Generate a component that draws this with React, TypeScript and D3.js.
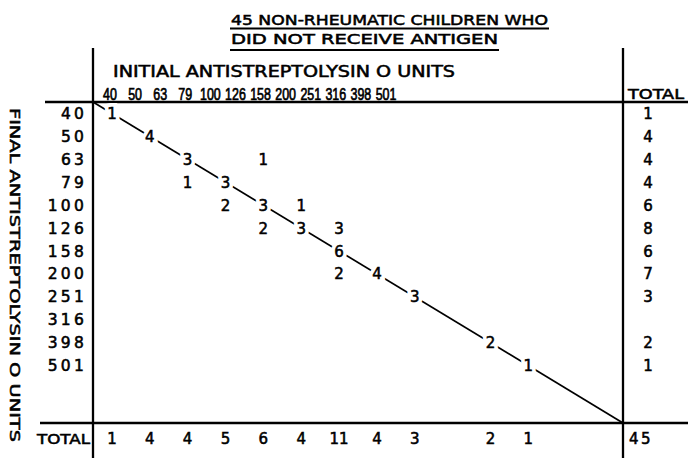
import * as React from 'react';
import * as d3 from 'd3';

// titre steps, same ladder for initial (columns) and final (rows)
const initialUnits = ['40', '50', '63', '79', '100', '126', '158', '200', '251', '316', '398', '501'];
const finalUnits = ['40', '50', '63', '79', '100', '126', '158', '200', '251', '316', '398', '501'];

// children per cell: final titre x initial titre
const cells = [
  { final: '40', initial: '40', n: '1' },
  { final: '50', initial: '50', n: '4' },
  { final: '63', initial: '63', n: '3' },
  { final: '63', initial: '100', n: '1' },
  { final: '79', initial: '63', n: '1' },
  { final: '79', initial: '79', n: '3' },
  { final: '100', initial: '79', n: '2' },
  { final: '100', initial: '100', n: '3' },
  { final: '100', initial: '126', n: '1' },
  { final: '126', initial: '100', n: '2' },
  { final: '126', initial: '126', n: '3' },
  { final: '126', initial: '158', n: '3' },
  { final: '158', initial: '158', n: '6' },
  { final: '200', initial: '158', n: '2' },
  { final: '200', initial: '200', n: '4' },
  { final: '251', initial: '251', n: '3' },
  { final: '398', initial: '398', n: '2' },
  { final: '501', initial: '501', n: '1' },
];

const rowTotals = ['1', '4', '4', '4', '6', '8', '6', '7', '3', '', '2', '1'];
const colTotals = ['1', '4', '4', '5', '6', '4', '11', '4', '3', '', '2', '1'];
const grandTotal = '45';

const titleLines = ['45 NON-RHEUMATIC CHILDREN WHO', 'DID NOT RECEIVE ANTIGEN'];
const xTitle = 'INITIAL ANTISTREPTOLYSIN O UNITS';
const yTitle = 'FINAL ANTISTREPTOLYSIN O UNITS';

const width = 688;
const height = 458;
const font = '"DejaVu Sans", sans-serif';
const narrowFont = '"Liberation Sans", Arial, sans-serif';
const ink = 0.55; // extra stroke to get the heavy lettering look

const drawTable = (node: SVGSVGElement) => {
  const svg = d3.select(node);
  svg.selectAll('*').remove();

  // 12 titre steps plus 2 empty steps before the corner
  const steps = d3.range(14);
  const x = d3.scaleBand<number>().domain(steps).range([93, 623]);
  const y = d3.scaleBand<number>().domain(steps).range([102, 423]);
  const cx = (u: string) => (x(initialUnits.indexOf(u)) as number) + x.bandwidth() / 2;
  const cy = (u: string) => (y(finalUnits.indexOf(u)) as number) + y.bandwidth() / 2;

  // the lettered heading row is squeezed, it does not follow the columns
  const xHead = d3.scalePoint<string>().domain(initialUnits).range([110, 386]);

  const [x0, x1] = x.range();
  const [y0, y1] = y.range();

  // frame
  const frame = svg.append('g').attr('stroke', '#000').attr('stroke-width', 2.3);
  frame.append('line').attr('x1', 45).attr('x2', width).attr('y1', y0).attr('y2', y0);
  frame.append('line').attr('x1', 40).attr('x2', width).attr('y1', y1).attr('y2', y1);
  frame.append('line').attr('x1', x0).attr('x2', x0).attr('y1', 48).attr('y2', height);
  frame.append('line').attr('x1', x1).attr('x2', x1).attr('y1', 48).attr('y2', height);

  // diagonal, corner to corner
  svg.append('line')
    .attr('x1', x0).attr('y1', y0)
    .attr('x2', x1).attr('y2', y1)
    .attr('stroke', '#000')
    .attr('stroke-width', 1.7);

  // title with underlines
  const title = svg.append('g')
    .attr('font-family', font).attr('font-size', 14.5)
    .attr('stroke', '#000').attr('stroke-width', ink);
  title.append('text').attr('x', 231).attr('y', 25)
    .attr('textLength', 317).attr('lengthAdjust', 'spacingAndGlyphs')
    .text(titleLines[0]);
  title.append('text').attr('x', 231).attr('y', 44)
    .attr('textLength', 267).attr('lengthAdjust', 'spacingAndGlyphs')
    .text(titleLines[1]);
  title.append('line').attr('x1', 230).attr('x2', 549).attr('y1', 28.5).attr('y2', 28.5)
    .attr('stroke-width', 2);
  title.append('line').attr('x1', 230).attr('x2', 499).attr('y1', 50).attr('y2', 50)
    .attr('stroke-width', 2);

  // column heading
  svg.append('text')
    .attr('font-family', font).attr('font-size', 15.5)
    .attr('stroke', '#000').attr('stroke-width', ink)
    .attr('x', 113).attr('y', 77)
    .attr('textLength', 342).attr('lengthAdjust', 'spacingAndGlyphs')
    .text(xTitle);

  // initial titre labels, tall narrow lettering
  svg.append('g')
    .attr('font-family', narrowFont).attr('font-size', 16).attr('text-anchor', 'middle')
    .attr('stroke', '#000').attr('stroke-width', 0.7)
    .selectAll('text')
    .data(initialUnits)
    .join('text')
    .attr('x', d => xHead(d) as number)
    .attr('y', 100)
    .attr('textLength', d => d.length * 6.9)
    .attr('lengthAdjust', 'spacingAndGlyphs')
    .text(d => d);

  svg.append('text')
    .attr('font-family', font).attr('font-size', 14)
    .attr('stroke', '#000').attr('stroke-width', ink)
    .attr('x', 628).attr('y', 99)
    .attr('textLength', 56).attr('lengthAdjust', 'spacingAndGlyphs')
    .text('TOTAL');

  // row heading, rotated
  svg.append('text')
    .attr('font-family', font).attr('font-size', 14.5)
    .attr('stroke', '#000').attr('stroke-width', ink)
    .attr('transform', 'translate(10,108) rotate(90)')
    .attr('textLength', 334).attr('lengthAdjust', 'spacingAndGlyphs')
    .text(yTitle);

  // final titre labels
  svg.append('g')
    .attr('font-family', font).attr('font-size', 15.5).attr('text-anchor', 'end')
    .attr('letter-spacing', 3.2)
    .attr('stroke', '#000').attr('stroke-width', ink)
    .selectAll('text')
    .data(finalUnits)
    .join('text')
    .attr('x', 87)
    .attr('y', d => cy(d) + 5.5)
    .text(d => d);

  // white halo under the diagonal counts breaks the line around them
  const diagonal = cells.filter(d => d.final === d.initial);
  svg.append('g')
    .attr('font-family', font).attr('font-size', 15).attr('text-anchor', 'middle')
    .attr('fill', '#fff').attr('stroke', '#fff').attr('stroke-width', 8)
    .selectAll('text')
    .data(diagonal)
    .join('text')
    .attr('x', d => cx(d.initial))
    .attr('y', d => cy(d.final) + 5.5)
    .text(d => d.n);

  // cell counts
  svg.append('g')
    .attr('font-family', font).attr('font-size', 15).attr('text-anchor', 'middle')
    .attr('stroke', '#000').attr('stroke-width', ink)
    .selectAll('text')
    .data(cells)
    .join('text')
    .attr('x', d => cx(d.initial))
    .attr('y', d => cy(d.final) + 5.5)
    .text(d => d.n);

  // row totals
  svg.append('g')
    .attr('font-family', font).attr('font-size', 15).attr('text-anchor', 'middle')
    .attr('stroke', '#000').attr('stroke-width', ink)
    .selectAll('text')
    .data(rowTotals)
    .join('text')
    .attr('x', 648)
    .attr('y', (d, i) => cy(finalUnits[i]) + 5.5)
    .text(d => d);

  // column totals
  svg.append('text')
    .attr('font-family', font).attr('font-size', 14)
    .attr('stroke', '#000').attr('stroke-width', ink)
    .attr('x', 37).attr('y', 444)
    .attr('textLength', 53).attr('lengthAdjust', 'spacingAndGlyphs')
    .text('TOTAL');

  svg.append('g')
    .attr('font-family', font).attr('font-size', 15).attr('text-anchor', 'middle')
    .attr('stroke', '#000').attr('stroke-width', ink)
    .selectAll('text')
    .data(colTotals)
    .join('text')
    .attr('x', (d, i) => cx(initialUnits[i]))
    .attr('y', 444)
    .text(d => d);

  svg.append('text')
    .attr('font-family', font).attr('font-size', 15)
    .attr('stroke', '#000').attr('stroke-width', ink)
    .attr('x', 629).attr('y', 444)
    .attr('letter-spacing', 2.5)
    .text(grandTotal);
};

const App = () => {
  const ref = React.useRef<SVGSVGElement>(null);

  React.useEffect(() => {
    if (ref.current) drawTable(ref.current);
  }, []);

  return (
    <svg
      ref={ref}
      width={width}
      height={height}
      style={{ position: 'absolute', left: 0, top: 0, background: '#fff' }}
    />
  );
};

export default App;
